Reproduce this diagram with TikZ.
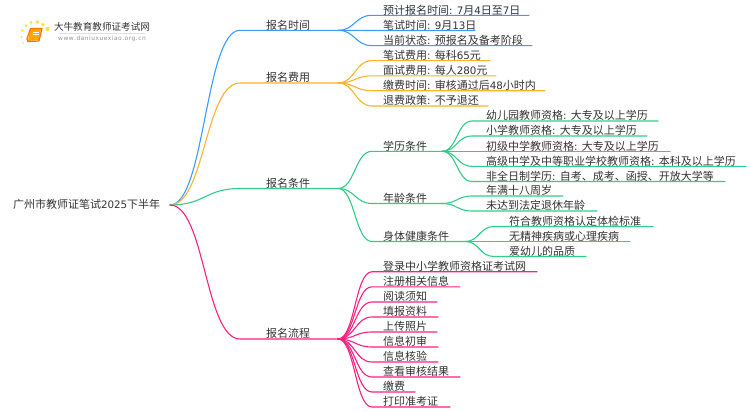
\documentclass[tikz,border=0pt]{standalone}
\usepackage{fontspec}
\setmainfont{Noto Sans CJK SC}
\newfontfamily\latinf{DejaVu Sans}
\newcommand{\LT}[1]{{\latinf\fontsize{10.3}{12}\selectfont #1}}
\definecolor{cblue}{HTML}{3D9BFF}
\definecolor{corange}{HTML}{FFB22E}
\definecolor{cgreen}{HTML}{2FCF88}
\definecolor{cpink}{HTML}{FF1F80}
\definecolor{ctext}{HTML}{333333}
\tikzset{
  lbl/.style={anchor=base west,inner sep=0pt,outer sep=0pt,text=ctext,font=\fontsize{11}{13}\selectfont},
  conn/.style={line width=1.1pt,line cap=round},
}
% \leafnode{name}{parent hub}{colour}{curve start x}{curve end x}{text x}{y}{end x}{text}
\newcommand{\leafnode}[9]{%
  \coordinate (#1-s) at (#5,#7);
  \coordinate (#1-e) at (#8,#7);
  \coordinate (#1-c) at ({(#4+#5)/2},#7);
  \node[lbl] (#1) at (#6,#7-1.1) {#9};
  \draw[conn,#3] (#2) .. controls (#2 -| #1-c) and (#1-c) .. (#1-s) -- (#1-e);
}
\begin{document}
\begin{tikzpicture}[x=1pt,y=-1pt]
\useasboundingbox (0,0) rectangle (750,410);
\fill[white] (0,0) rectangle (750,410);
% logo
\foreach \px/\py/\pr in {23/43/.8,21.5/37/1,22.5/30.5/1.3,26/25.5/1.5,31/22.5/1.7,37.5/22/1.9,43/24.5/1.8,47.5/29/2.1}
  \fill[yellow!75!orange,opacity=.75] (\px,\py) circle (\pr);
\fill[orange!70!yellow] (30,29) -- (41,29) -- (39,40) -- (28,41) -- cycle;
\draw[orange!90!red,line width=1.2pt,line join=round] (28,41.5) .. controls (26,40) and (27,38) .. (28,36) -- (30.5,28.5) -- (42,28.5) -- (39,41) -- cycle;
\draw[white,line width=.8pt] (33,32) -- (39,32) (32.5,34.5) -- (38.5,34.5);
\node[inner sep=0pt,text=ctext,font=\fontsize{9.6}{11}\selectfont] (logotitle) at (102,27) {大牛教育教师证考试网};
\draw[gray!25,line width=.5pt] (60,33.3) -- (145,33.3);
\node[inner sep=0pt,text=gray!85,font=\latinf\fontsize{5.9}{8}\selectfont] (logourl) at (102,39) {w\kern.5pt w\kern.5pt w\kern.5pt .\kern.5pt d\kern.5pt a\kern.5pt n\kern.5pt i\kern.5pt u\kern.5pt x\kern.5pt u\kern.5pt e\kern.5pt x\kern.5pt i\kern.5pt a\kern.5pt o\kern.5pt .\kern.5pt o\kern.5pt r\kern.5pt g\kern.5pt .\kern.5pt c\kern.5pt n};
% root
\node[lbl] (root) at (13,208.5) {广州市教师证笔试\LT{2025}下半年};
\coordinate (rootend) at (170,205);
% level 1
\newcommand{\branch}[4]{% name colour y text
  \coordinate (#1-s) at (240,#3);
  \coordinate (#1) at (338,#3);
  \node[lbl,anchor=base] (#1-t) at (288,#3-1.1) {#4};
  \draw[conn,#2] (rootend) .. controls (205,205) and (205,#3) .. (#1-s) -- (#1);
}
\branch{time}{cblue}{30.3}{报名时间}
\branch{fee}{corange}{83}{报名费用}
\branch{cond}{cgreen}{188.5}{报名条件}
\branch{flow}{cpink}{339}{报名流程}
% time
\leafnode{t1}{time}{cblue}{338}{372}{383}{15.3}{529}{预计报名时间\LT{: 7}月\LT{4}日至\LT{7}日}
\leafnode{t2}{time}{cblue}{338}{372}{383}{30.5}{475}{笔试时间\LT{: 9}月\LT{13}日}
\leafnode{t3}{time}{cblue}{338}{372}{383}{45.6}{532}{当前状态\LT{: }预报名及备考阶段}
% fee
\leafnode{f1}{fee}{corange}{338}{372}{383}{60.6}{490}{笔试费用\LT{: }每科\LT{65}元}
\leafnode{f2}{fee}{corange}{338}{372}{383}{75.8}{496}{面试费用\LT{: }每人\LT{280}元}
\leafnode{f3}{fee}{corange}{338}{372}{383}{90.7}{545}{缴费时间\LT{: }审核通过后\LT{48}小时内}
\leafnode{f4}{fee}{corange}{338}{372}{383}{106}{488}{退费政策\LT{: }不予退还}
% cond level 2
\leafnode{edu}{cond}{cgreen}{338}{372}{383}{151.3}{442}{学历条件}
\leafnode{age}{cond}{cgreen}{338}{372}{383}{203.5}{442}{年龄条件}
\leafnode{hlth}{cond}{cgreen}{338}{372}{383}{241.5}{465}{身体健康条件}
% education
\leafnode{e1}{edu-e}{cgreen}{442}{472}{486}{121}{658}{幼儿园教师资格\LT{: }大专及以上学历}
\leafnode{e2}{edu-e}{cgreen}{442}{472}{486}{136}{647}{小学教师资格\LT{: }大专及以上学历}
\leafnode{e3}{edu-e}{cgreen}{442}{472}{486}{151.3}{670}{初级中学教师资格\LT{: }大专及以上学历}
\leafnode{e4}{edu-e}{cgreen}{442}{472}{486}{166.3}{746}{高级中学及中等职业学校教师资格\LT{: }本科及以上学历}
\leafnode{e5}{edu-e}{cgreen}{442}{472}{486}{181.5}{725}{非全日制学历\LT{: }自考、成考、函授、开放大学等}
% age
\leafnode{a1}{age-e}{cgreen}{442}{472}{486}{196}{563}{年满十八周岁}
\leafnode{a2}{age-e}{cgreen}{442}{472}{486}{211}{597}{未达到法定退休年龄}
% health
\leafnode{h1}{hlth-e}{cgreen}{465}{494}{509}{226.5}{653}{符合教师资格认定体检标准}
\leafnode{h2}{hlth-e}{cgreen}{465}{494}{509}{241.5}{630}{无精神疾病或心理疾病}
\leafnode{h3}{hlth-e}{cgreen}{465}{494}{509}{256.5}{586}{爱幼儿的品质}
% flow
\leafnode{p1}{flow}{cpink}{338}{372}{383}{271.7}{537}{登录中小学教师资格证考试网}
\leafnode{p2}{flow}{cpink}{338}{372}{383}{286.8}{460}{注册相关信息}
\leafnode{p3}{flow}{cpink}{338}{372}{383}{302}{437}{阅读须知}
\leafnode{p4}{flow}{cpink}{338}{372}{383}{317}{438}{填报资料}
\leafnode{p5}{flow}{cpink}{338}{372}{383}{332}{437}{上传照片}
\leafnode{p6}{flow}{cpink}{338}{372}{383}{347}{438}{信息初审}
\leafnode{p7}{flow}{cpink}{338}{372}{383}{362}{438}{信息核验}
\leafnode{p8}{flow}{cpink}{338}{372}{383}{377}{460}{查看审核结果}
\leafnode{p9}{flow}{cpink}{338}{372}{383}{392}{415}{缴费}
\leafnode{p10}{flow}{cpink}{338}{372}{383}{407}{450}{打印准考证}
\end{tikzpicture}
\end{document}
